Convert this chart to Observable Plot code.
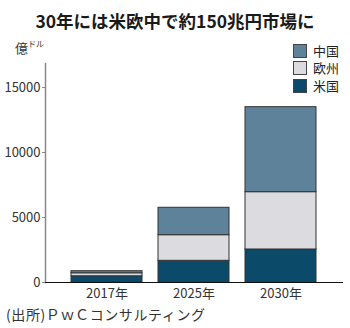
<!DOCTYPE html>
<html><head><meta charset="utf-8">
<script src="https://cdn.jsdelivr.net/npm/d3@7"></script>
<script src="https://cdn.jsdelivr.net/npm/@observablehq/plot@0.6"></script>
<style>
body{margin:0;background:#fff;font-family:"Noto Sans CJK JP","Noto Sans",sans-serif;}
#wrap{position:relative;width:350px;height:328px;overflow:hidden;}
#title{position:absolute;top:8px;left:0;width:350px;text-align:center;font-size:17.5px;font-weight:bold;color:#1a1a1a;}
#unit{position:absolute;left:15px;top:38px;font-size:13px;color:#333;}
#unit small{font-size:8px;vertical-align:6px;}
#legend{position:absolute;left:293px;top:42px;font-size:13px;line-height:16px;color:#222;}
.row{display:flex;align-items:center;height:17.5px;}
.sw{width:12px;height:12px;border:1px solid #444;margin-right:6px;box-sizing:content-box;}
#chart{position:absolute;left:0;top:40px;}
#caption{position:absolute;left:6px;top:304px;font-size:14px;letter-spacing:0.6px;color:#333;}
</style></head>
<body><div id="wrap">
<div id="title">30年には米欧中で約150兆円市場に</div>
<div id="unit">億<small>ドル</small></div>
<div id="legend"></div>
<div id="chart"></div>
<div id="caption">(出所)ＰｗＣコンサルティング</div>
</div>
<script>
const years = ["2017年","2025年","2030年"];
const series = ["米国","欧州","中国"];
const us = [480, 1670, 2540];
const eu = [230, 1970, 4410];
const cn = [160, 2110, 6540];
const colors = ["#0b4a68","#dcdbe0","#5d8299"];
const yTicks = [0,5000,10000,15000];

const data = [];
years.forEach((y,i)=>{
  data.push({year:y, s:series[0], v:us[i]});
  data.push({year:y, s:series[1], v:eu[i]});
  data.push({year:y, s:series[2], v:cn[i]});
});

const lg = document.getElementById("legend");
[2,1,0].forEach(i=>{
  const r=document.createElement("div");r.className="row";
  r.innerHTML=`<span class="sw" style="background:${colors[i]}"></span><span>${series[i]}</span>`;
  lg.appendChild(r);
});

const chart = Plot.plot({
  width:350, height:265,
  marginLeft:45, marginRight:7, marginTop:23, marginBottom:23,
  style:{fontFamily:'"Noto Sans CJK JP","Noto Sans",sans-serif', fontSize:"13px", color:"#333", background:"transparent"},
  x:{domain:years, paddingInner:0.18, paddingOuter:0.29, label:null},
  y:{domain:[0,16850], label:null},
  color:{domain:series, range:colors},
  marks:[
    Plot.axisY({ticks:yTicks, tickFormat:d=>String(d), tickSize:3, tickPadding:2, label:null, stroke:"#888"}),
    Plot.axisX({tickSize:0, label:null, tickPadding:6}),
    Plot.frame({anchor:"left", stroke:"#888", strokeWidth:1.5}),
    Plot.barY(data,{x:"year", y:"v", fill:"s", order:series, stroke:"#333", strokeWidth:1}),
    Plot.ruleY([0],{stroke:"#111", strokeWidth:1.2})
  ]
});
document.getElementById("chart").appendChild(chart);
</script>
</body></html>
